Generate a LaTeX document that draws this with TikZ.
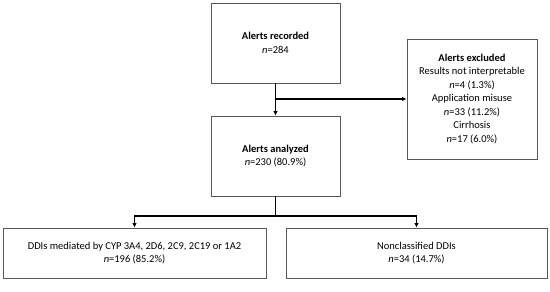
\documentclass[tikz,border=0pt]{standalone}
\usepackage{fontspec}
\setmainfont{Carlito}
\usetikzlibrary{arrows.meta}
\begin{document}
\begin{tikzpicture}[x=1pt,y=-1pt,
  box/.style={draw=black!65,line width=0.8pt,fill=white,rectangle,align=center,inner sep=2pt,font=\fontsize{10.5}{13.5}\selectfont},
  conn/.style={line width=1.4pt,black},
  arr/.style={conn,-{Latex[length=4.5pt,width=4.5pt]}}]
\useasboundingbox (0,0) rectangle (550,292);
\node[box,minimum width=129pt,minimum height=80pt] (rec) at (275.5,43) {\textbf{Alerts recorded}\\\textit{n}=284};
\node[box,minimum width=130pt,minimum height=120pt] (exc) at (472,99) {\textbf{Alerts excluded}\\Results not interpretable\\\textit{n}=4 (1.3\%)\\Application misuse\\\textit{n}=33 (11.2\%)\\Cirrhosis\\\textit{n}=17 (6.0\%)};
\node[box,minimum width=129pt,minimum height=80pt] (ana) at (275.5,156) {\textbf{Alerts analyzed}\\\textit{n}=230 (80.9\%)};
\node[box,minimum width=263pt,minimum height=50pt] (bl) at (134.5,253) {DDIs mediated by CYP 3A4, 2D6, 2C9, 2C19 or 1A2\\\textit{n}=196 (85.2\%)};
\node[box,minimum width=261pt,minimum height=50pt] (br) at (416.5,253) {Nonclassified DDIs\\\textit{n}=34 (14.7\%)};
\coordinate (j1) at (275.5,99);
\coordinate (j2) at (275.5,216);
\draw[arr] (rec.south) -- (ana.north);
\draw[arr] (j1) -- (exc.west);
\draw[conn] (ana.south) -- (j2);
\draw[arr] (j2) -| (bl.north);
\draw[arr] (j2) -| (br.north);
\end{tikzpicture}
\end{document}
